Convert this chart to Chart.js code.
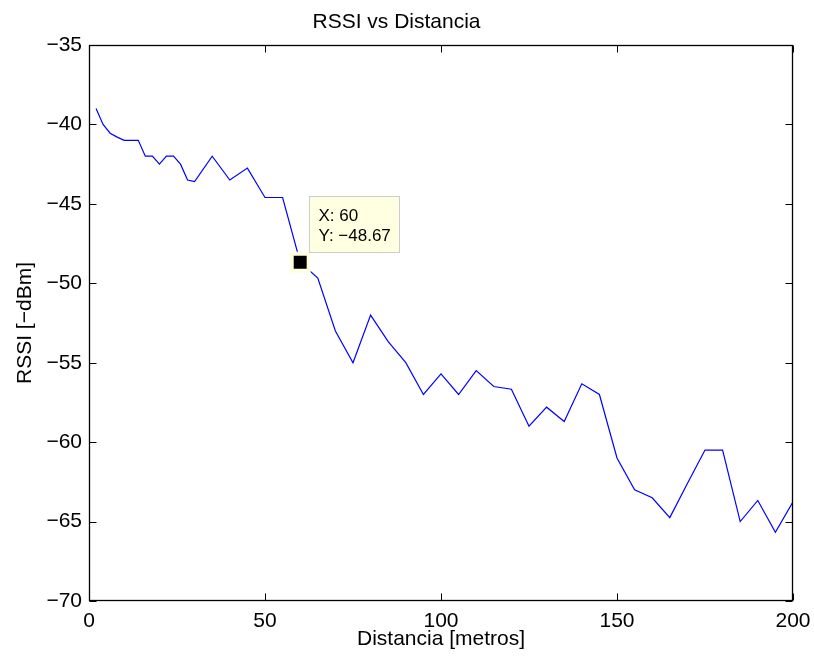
<!DOCTYPE html>
<html>
<head>
<meta charset="utf-8">
<script src="https://cdn.jsdelivr.net/npm/chart.js@4"></script>
<style>
  html, body { margin: 0; padding: 0; background: #fff; }
  #wrap { width: 814px; height: 659px; }
</style>
</head>
<body>
<div id="wrap"><canvas id="rssiChart" width="814" height="659"></canvas></div>
<script>
// Distance (m) and RSSI readings
const distancia = [2, 4, 6, 8, 10, 12, 14, 16, 18, 20, 22, 24, 26, 28, 30,
    35, 40, 45, 50, 55, 60, 65, 70, 75, 80, 85, 90, 95, 100, 105, 110, 115, 120,
    125, 130, 135, 140, 145, 150, 155, 160, 165, 170, 175, 180, 185, 190, 195, 200];
const rssi = [-39, -40, -40.55, -40.8, -41, -41, -41, -42, -42, -42.5, -42, -42, -42.5, -43.5, -43.6,
    -42, -43.5, -42.75, -44.6, -44.6, -48.67, -49.67, -53, -55, -52, -53.67, -55, -57, -55.7, -57, -55.5, -56.5, -56.67,
    -59, -57.8, -58.7, -56.33, -57, -61, -63, -63.5, -64.75, -62.6, -60.5, -60.5, -65, -63.67, -65.67, -63.75];

// Data tip
const tipX = 60;
const tipY = -48.67;

const xTicks = [0, 50, 100, 150, 200];
const yTicks = [-70, -65, -60, -55, -50, -45, -40, -35];

const FONT = 'Liberation Sans, Arial, Helvetica, sans-serif';
const minus = v => (v < 0 ? '\u2212' + Math.abs(v) : String(v));

// box round the axes with inward ticks, like matlab
const frame = {
    id: 'frame',
    afterDatasetsDraw(chart) {
        const { ctx, chartArea: a, scales } = chart;
        const L = Math.round(a.left) + 0.5, R = Math.round(a.right) - 0.5;
        const T = Math.round(a.top) + 0.5, B = Math.round(a.bottom) - 0.5;
        ctx.save();
        ctx.strokeStyle = '#000';
        ctx.lineWidth = 1;
        ctx.beginPath();
        xTicks.forEach(v => {
            const x = Math.round(scales.x.getPixelForValue(v)) + 0.5;
            ctx.moveTo(x, B); ctx.lineTo(x, B - 7);
            ctx.moveTo(x, T); ctx.lineTo(x, T + 7);
        });
        yTicks.forEach(v => {
            const y = Math.round(scales.y.getPixelForValue(v)) + 0.5;
            ctx.moveTo(L, y); ctx.lineTo(L + 7, y);
            ctx.moveTo(R, y); ctx.lineTo(R - 7, y);
        });
        ctx.stroke();
        ctx.lineWidth = 1.3;
        ctx.strokeRect(L, T, R - L, B - T);
        ctx.restore();
    }
};

// the datatip box
const dataTip = {
    id: 'dataTip',
    afterDraw(chart) {
        const { ctx, scales } = chart;
        const px = scales.x.getPixelForValue(tipX);
        const py = scales.y.getPixelForValue(tipY);
        const bx = Math.round(px + 9) + 0.5, by = Math.round(py - 66) + 0.5;
        ctx.save();
        ctx.fillStyle = '#ffffe1';
        ctx.strokeStyle = '#cccccc';
        ctx.lineWidth = 1;
        ctx.fillRect(bx, by, 90, 56);
        ctx.strokeRect(bx, by, 90, 56);
        ctx.fillStyle = '#000';
        ctx.font = '17px ' + FONT;
        ctx.textBaseline = 'alphabetic';
        ctx.fillText('X: ' + tipX, bx + 9, py - 41.5);
        ctx.fillText('Y: ' + minus(tipY), bx + 9, py - 21.5);
        ctx.restore();
    }
};

const ctx = document.getElementById('rssiChart').getContext('2d');
const rssiChart = new Chart(ctx, {
    type: 'line',
    data: {
        datasets: [{
            data: [{ x: tipX, y: tipY }],
            order: 0,
            showLine: false,
            pointStyle: 'rect',
            pointRadius: 12,
            backgroundColor: '#000',
            borderColor: '#ffffe1',
            borderWidth: 4
        }, {
            data: distancia.map((d, i) => ({ x: d, y: rssi[i] })),
            order: 1,
            borderColor: '#0000ff',
            borderWidth: 1.2,
            pointRadius: 0,
            tension: 0,
            fill: false
        }]
    },
    plugins: [frame, dataTip],
    options: {
        responsive: false,
        animation: false,
        layout: { padding: { left: 0, right: 21, top: 0, bottom: 0 } },
        plugins: {
            legend: { display: false },
            tooltip: { enabled: false },
            title: {
                display: true,
                text: 'RSSI vs Distancia',
                color: '#000',
                font: { family: FONT, size: 21, weight: 'normal' },
                padding: { top: 10, bottom: 9.8 }
            }
        },
        scales: {
            x: {
                type: 'linear',
                min: 0,
                max: 200,
                afterBuildTicks: s => { s.ticks = xTicks.map(v => ({ value: v })); },
                afterFit: s => { s.height = 58; s.paddingLeft = 0; s.paddingRight = 0; },
                grid: { display: false, drawTicks: false },
                border: { display: false },
                ticks: {
                    color: '#000',
                    padding: 8,
                    maxRotation: 0,
                    font: { family: FONT, size: 21 },
                    callback: v => minus(v)
                },
                title: {
                    display: true,
                    text: 'Distancia [metros]',
                    color: '#000',
                    font: { family: FONT, size: 21 },
                    padding: { bottom: 7 }
                }
            },
            y: {
                min: -70,
                max: -35,
                afterBuildTicks: s => { s.ticks = yTicks.map(v => ({ value: v })); },
                afterFit: s => { s.width = 89; s.paddingTop = 0; s.paddingBottom = 0; },
                grid: { display: false, drawTicks: false },
                border: { display: false },
                ticks: {
                    color: '#000',
                    padding: 7,
                    font: { family: FONT, size: 21 },
                    callback: v => minus(v)
                },
                title: {
                    display: true,
                    text: 'RSSI [\u2212dBm]',
                    color: '#000',
                    font: { family: FONT, size: 21 },
                    padding: { top: 13 }
                }
            }
        }
    }
});
</script>
</body>
</html>
